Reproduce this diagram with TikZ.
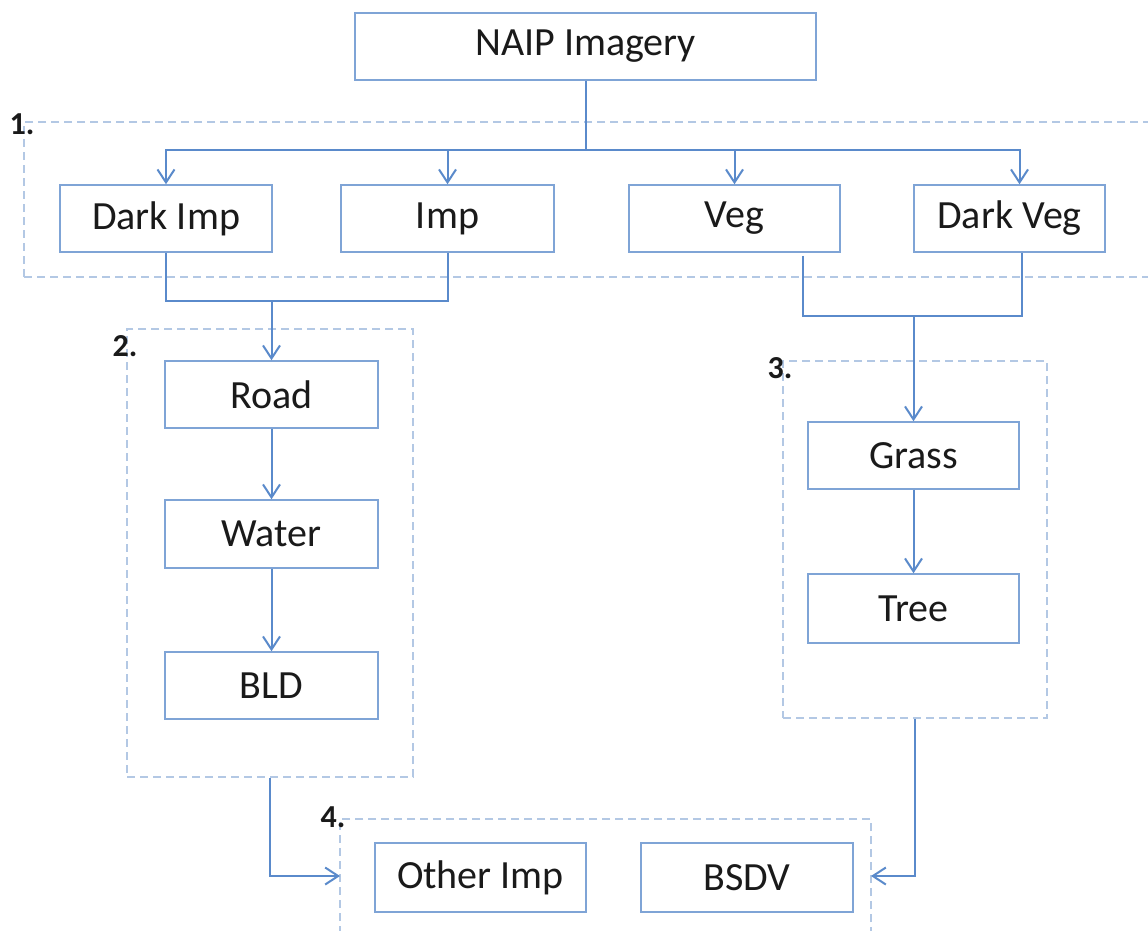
\documentclass[tikz,border=0pt]{standalone}
\usepackage{fontspec}
\setmainfont{Carlito}
\usetikzlibrary{arrows.meta}
\definecolor{boxcol}{HTML}{7FA4D6}
\definecolor{conncol}{HTML}{5A8ACB}
\definecolor{dashcol}{HTML}{B3C8E4}
\definecolor{txtcol}{HTML}{1A1A1A}
\tikzset{
  stepbox/.style={draw=boxcol, line width=1.5pt, fill=white, inner sep=0pt,
    minimum width=212pt, minimum height=67pt, text=txtcol,
    font=\fontsize{40}{48}\selectfont},
  groupbox/.style={draw=dashcol, line width=2.2pt, dash pattern=on 8pt off 5pt, inner sep=0pt},
  grouplabel/.style={text=txtcol, font=\fontsize{32}{36}\selectfont\bfseries, inner sep=0pt},
  conn/.style={draw=conncol, line width=2pt},
  arr/.style={-{Straight Barb[length=13pt,width=17pt,line width=2pt]}},
}
\begin{document}
\begin{tikzpicture}[x=1pt,y=-1pt]
\clip (0,0) rectangle (1148,930);
\fill[white] (0,0) rectangle (1148,930);

% dashed group boxes
\node[groupbox, minimum width=1136pt, minimum height=155pt] (g1) at (592,199.5) {};
\node[groupbox, minimum width=286pt, minimum height=448pt] (g2) at (270,553) {};
\node[groupbox, minimum width=264pt, minimum height=357pt] (g3) at (915,539.5) {};
\node[groupbox, minimum width=531pt, minimum height=131pt] (g4) at (605.5,884.5) {};

\node[grouplabel] (l1) at (22,124) {1.};
\node[grouplabel] (l2) at (125,346) {2.};
\node[grouplabel] (l3) at (780,368) {3.};
\node[grouplabel] (l4) at (333,817) {4.};

% boxes
\node[stepbox, minimum width=461pt] (naip) at (585.5,46.5) {NAIP Imagery};
\node[stepbox] (darkimp) at (166,218.5) {Dark Imp};
\node[stepbox, minimum width=213pt] (imp) at (447.5,218.5) {Imp};
\node[stepbox, minimum width=211pt] (veg) at (734.5,218.5) {Veg};
\node[stepbox, minimum width=191pt] (darkveg) at (1009.5,218.5) {Dark Veg};
\node[stepbox, minimum width=213pt] (road) at (271.5,394.5) {Road};
\node[stepbox, minimum width=213pt, minimum height=68pt] (water) at (271.5,534) {Water};
\node[stepbox, minimum width=213pt] (bld) at (271.5,685.5) {BLD};
\node[stepbox, minimum width=211pt] (grass) at (913.5,455.5) {Grass};
\node[stepbox, minimum width=211pt, minimum height=69pt] (tree) at (913.5,608.5) {Tree};
\node[stepbox, minimum width=211pt, minimum height=69pt] (otherimp) at (480.5,877.5) {Other Imp};
\node[stepbox, minimum height=69pt] (bsdv) at (747,877.5) {BSDV};

% connectors
\coordinate (bus) at (585.5,150);
\draw[conn] (naip.south) -- (bus);
\draw[conn,arr] (bus) -| (darkimp.north);
\draw[conn,arr] (bus) -| (imp.north);
\draw[conn,arr] (bus) -| (veg.north);
\draw[conn,arr] (bus) -| ([xshift=10pt]darkveg.north);

\coordinate (m1) at (271.5,301);
\draw[conn] (darkimp.south) |- (m1);
\draw[conn] (imp.south) |- (m1);
\draw[conn,arr] (m1) -- (road.north);

\coordinate (m2) at (913.5,316);
\draw[conn] ([xshift=68.5pt,yshift=-3pt]veg.south) |- (m2);
\draw[conn] ([xshift=12.5pt]darkveg.south) |- (m2);
\draw[conn,arr] (m2) -- (grass.north);

\draw[conn,arr] (road) -- (water);
\draw[conn,arr] (water) -- (bld);
\draw[conn,arr] (grass) -- (tree);

\coordinate (c4l) at (340,876);
\coordinate (c4r) at (871,876);
\draw[conn,arr] (g2.south) |- (c4l);
\draw[conn,arr] (g3.south) |- (c4r);
\end{tikzpicture}
\end{document}
